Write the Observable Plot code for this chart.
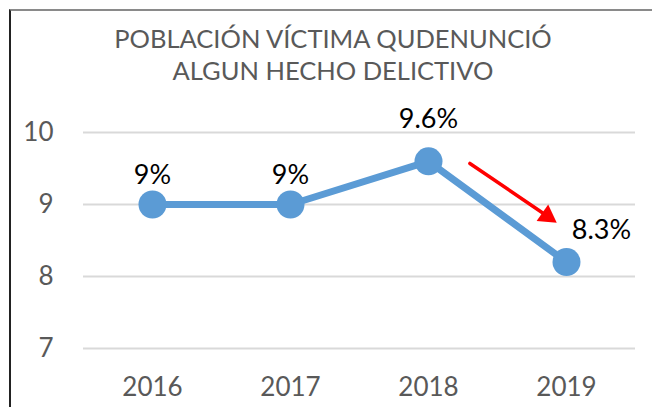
<!DOCTYPE html>
<html>
<head>
<meta charset="utf-8">
<script src="https://cdn.jsdelivr.net/npm/d3@7"></script>
<script src="https://cdn.jsdelivr.net/npm/@observablehq/plot@0.6"></script>
<style>
  html, body { margin: 0; padding: 0; background: #fff; width: 652px; height: 407px; overflow: hidden; }
  #frame { position: absolute; left: 9px; top: 9px; width: 700px; height: 500px;
           border-top: 2px solid #8a8a8a; border-left: 2px solid #222; }
  #title { position: absolute; left: 9px; width: 648px; top: 22px; text-align: center;
           font-family: Lato, "Liberation Sans", sans-serif; font-size: 25.5px; color: #595959; line-height: 32px; }
  #chart { position: absolute; left: 0; top: 0; }
</style>
</head>
<body>
<div id="frame"></div>
<div id="chart"></div>
<div id="title">POBLACIÓN VÍCTIMA QUDENUNCIÓ<br>ALGUN HECHO DELICTIVO</div>
<script>
const years = [2016, 2017, 2018, 2019];
const values = [9, 9, 9.6, 8.2];
const valueLabels = ["9%", "9%", "9.6%", "8.3%"];
const yTicks = [7, 8, 9, 10];
const arrowShaft = [{x1: 2018.30, y1: 9.57, x2: 2018.86, y2: 8.84}];
const arrowHead = [{x: 2018.86, y: 8.84}];

const data = years.map((y, i) => ({year: y, value: values[i], label: valueLabels[i]}));
const font = "Lato, 'Liberation Sans', sans-serif";

const plot = Plot.plot({
  width: 652,
  height: 407,
  marginLeft: 83,
  marginRight: 17,
  marginTop: 132,
  marginBottom: 59,
  style: {fontFamily: font, background: "transparent"},
  x: {type: "linear", domain: [2015.5, 2019.5]},
  y: {domain: [7, 10]},
  marks: [
    Plot.gridY(yTicks, {stroke: "#d9d9d9", strokeOpacity: 1, strokeWidth: 2}),
    Plot.axisY(yTicks, {tickSize: 0, tickPadding: 30, fontSize: 26, fill: "#595959", tickFormat: d => String(d), label: null}),
    Plot.axisX(years, {tickSize: 0, tickPadding: 29, fontSize: 26, fill: "#595959", tickFormat: d => String(d), label: null}),
    Plot.line(data, {x: "year", y: "value", stroke: "#5b9bd5", strokeWidth: 7}),
    Plot.dot(data, {x: "year", y: "value", r: 14, fill: "#5b9bd5"}),
    Plot.text(data.filter(d => d.year < 2018), {x: "year", y: "value", text: "label", dy: -29, fontSize: 27, fill: "#000"}),
    Plot.text(data.filter(d => d.year === 2018), {x: "year", y: "value", text: "label", dy: -42, fontSize: 27, fill: "#000"}),
    Plot.text(data.filter(d => d.year === 2019), {x: "year", y: "value", text: "label", dx: 35, dy: -32, fontSize: 27, fill: "#000"}),
    Plot.arrow(arrowShaft, {x1: "x1", y1: "y1", x2: "x2", y2: "y2", stroke: "#ff0000", strokeWidth: 3.5, headLength: 0}),
    Plot.dot(arrowHead, {x: "x", y: "y", symbol: "triangle", r: 7.5, fill: "#ff0000", rotate: 125})
  ]
});
document.getElementById("chart").appendChild(plot);
</script>
</body>
</html>
